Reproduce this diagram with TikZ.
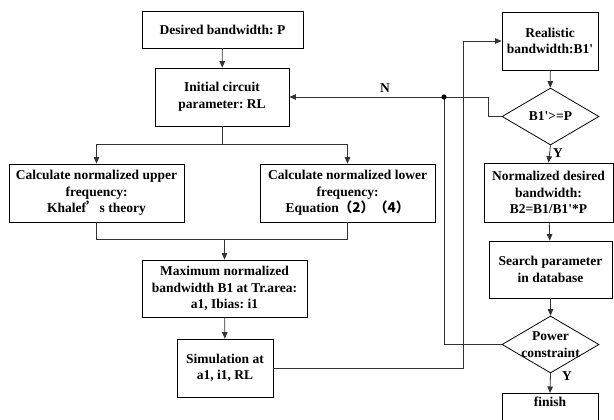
\documentclass[tikz,border=0pt]{standalone}
\usepackage{fontspec}
\setmainfont{Liberation Serif}[Ligatures=TeXOff]
\newfontfamily\cjk{Noto Sans CJK SC}
\usetikzlibrary{arrows.meta,shapes.geometric}
\frenchspacing
\begin{document}
\begin{tikzpicture}[x=1pt,y=-1pt,
  every node/.style={font=\fontsize{13.5}{16.7}\selectfont\bfseries\frenchspacing},
  box/.style={draw=black,line width=0.8pt,rectangle,align=center,inner sep=0pt},
  dia/.style={draw=black,line width=0.8pt,diamond,inner sep=0pt,minimum width=97pt,minimum height=57pt},
  line/.style={draw=black!80,line width=0.8pt},
  arr/.style={line,-{Triangle[length=6.5pt,width=5.5pt]}}]
\useasboundingbox (0,0) rectangle (614,420);
\clip (0,0) rectangle (614,420);
% left column
\node[box,minimum width=161pt,minimum height=37pt] (b1) at (222.5,29.5) {Desired bandwidth: P};
\node[box,minimum width=134pt,minimum height=58pt] (b2) at (222,97) {Initial circuit\\parameter: RL};
\node[box,minimum width=175pt,minimum height=58pt] (b3) at (96.5,193) {Calculate normalized upper\\frequency:\\Khalef{\cjk ’}s theory};
\node[box,minimum width=175pt,minimum height=58pt] (b4) at (347.5,193) {Calculate normalized lower\\frequency:\\Equation{\cjk （2）（4）}};
\node[box,minimum width=165pt,minimum height=57pt] (b5) at (224.5,288.5) {Maximum normalized\\bandwidth B1 at Tr.area:\\a1, Ibias: i1};
\node[box,minimum width=96pt,minimum height=58pt] (b6) at (225,368) {Simulation at\\a1, i1, RL};
% right column
\node[box,minimum width=96pt,minimum height=58pt] (real) at (550,41) {Realistic\\bandwidth:B1'};
\node[dia] (d1) at (550.5,116.5) {};
\node (d1t) at (d1.center) {B1'>=P};
\node[box,minimum width=129pt,minimum height=59pt] (norm) at (548.5,192.5) {Normalized desired\\bandwidth:\\B2=B1/B1'*P};
\node[box,minimum width=123pt,minimum height=57pt] (search) at (550.5,269.5) {Search parameter\\in database};
\node[dia] (d2) at (550.5,344.5) {};
\node[align=center] (d2t) at (d2.center) {Power\\constraint};
\node[box,minimum width=96pt,anchor=north,inner ysep=4pt,text height=9.5pt,text depth=40pt] (fin) at (550,393) {finish};
% coordinates
\coordinate (split) at (222,144);
\coordinate (merge) at (224.5,239);
\coordinate (up) at (463,368);
\coordinate (k1) at (488,116.5);
\coordinate (k2) at (488,97);
\coordinate (jn) at (444,97);
% connectors
\draw[arr] (b1) -- (b2);
\draw[line] (b2.south) -- (split);
\draw[arr] (split) -| (b3.north);
\draw[arr] (split) -| (b4.north);
\draw[line] (b3.south) |- (merge);
\draw[line] (b4.south) |- (merge);
\draw[arr] (merge) -- (b5.north);
\draw[arr] (b5) -- (b6);
\draw[arr] (b6.east) -- (up) |- (real.west);
\draw[arr] (real) -- (d1);
\draw[arr] (d1.west) -- (k1) -- (k2) -- (b2.east);
\draw[line] (d2.west) -| (jn);
\fill (jn) circle (2.6pt);
\draw[arr] (d1.south) -- (norm.north);
\draw[arr] (norm) -- (search);
\draw[arr] (search.south) -- (d2.north);
\draw[arr] (d2.south) -- (fin.north);
% labels
\node (lN) at (385,88) {N};
\node (lY1) at (558,153) {Y};
\node (lY2) at (567,376) {Y};
\end{tikzpicture}
\end{document}
